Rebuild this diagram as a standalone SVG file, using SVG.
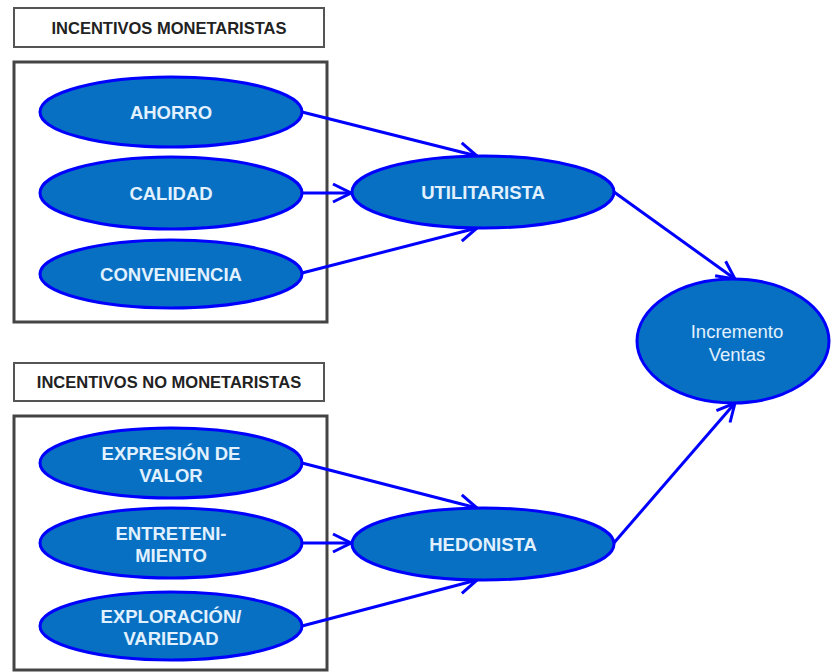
<svg xmlns="http://www.w3.org/2000/svg" width="832" height="672" viewBox="0 0 832 672">
<style>
.title{fill:#fff;stroke:#555;stroke-width:2}
.group{fill:#fff;stroke:#444;stroke-width:3}
.tt{font-family:"Liberation Sans",Arial,sans-serif;font-weight:bold;font-size:16.5px;fill:#222;text-anchor:middle}
.el{fill:#0870c2;stroke:#0000ff;stroke-width:3}
.lb{font-family:"Liberation Sans",Arial,sans-serif;font-weight:bold;font-size:18.5px;fill:#e2f1ff;text-anchor:middle}
.lbn{font-family:"Liberation Sans",Arial,sans-serif;font-weight:normal;font-size:18.5px;fill:#e2f1ff;text-anchor:middle}
.cn{fill:none;stroke:#0000ff;stroke-width:3;marker-end:url(#ah)}
</style>
<defs>
<marker id="ah" markerUnits="userSpaceOnUse" viewBox="0 0 24 24" markerWidth="24" markerHeight="24" refX="21" refY="12" orient="auto">
<path d="M3,3 L21,12 L3,21" fill="none" stroke="#0000ff" stroke-width="3" stroke-linejoin="miter"/>
</marker>
</defs>
<rect width="832" height="672" fill="#fff"/>
<g id="title-monetaristas">
<rect class="title" x="14" y="8" width="310" height="39"/>
<text class="tt" x="169" y="34">INCENTIVOS MONETARISTAS</text>
</g>
<g id="box-monetaristas">
<rect class="group" x="14" y="62" width="313" height="260"/>
</g>
<g id="title-no-monetaristas">
<rect class="title" x="14" y="363" width="310" height="38"/>
<text class="tt" x="169" y="388">INCENTIVOS NO MONETARISTAS</text>
</g>
<g id="box-no-monetaristas">
<rect class="group" x="14" y="416" width="313" height="254"/>
</g>
<g id="connectors">
<line class="cn" x1="302" y1="112" x2="477" y2="156"/>
<line class="cn" x1="302" y1="193" x2="351" y2="193"/>
<line class="cn" x1="302" y1="273" x2="477" y2="228"/>
<line class="cn" x1="302" y1="463" x2="477" y2="508"/>
<line class="cn" x1="302" y1="543" x2="351" y2="543"/>
<line class="cn" x1="302" y1="626" x2="477" y2="580"/>
<line class="cn" x1="614" y1="192" x2="735" y2="279"/>
<line class="cn" x1="613" y1="544" x2="735" y2="403"/>
</g>
<g id="ahorro">
<ellipse class="el" cx="171" cy="112" rx="131" ry="35"/>
<text class="lb" x="171" y="119">AHORRO</text>
</g>
<g id="calidad">
<ellipse class="el" cx="171" cy="193" rx="131" ry="36"/>
<text class="lb" x="171" y="200">CALIDAD</text>
</g>
<g id="conveniencia">
<ellipse class="el" cx="171" cy="274" rx="131" ry="34"/>
<text class="lb" x="171" y="281">CONVENIENCIA</text>
</g>
<g id="utilitarista">
<ellipse class="el" cx="483" cy="192" rx="131" ry="36"/>
<text class="lb" x="483" y="199">UTILITARISTA</text>
</g>
<g id="expresion">
<ellipse class="el" cx="171" cy="463" rx="131" ry="35"/>
<text class="lb" x="171" y="459.5">EXPRESIÓN DE</text>
<text class="lb" x="171" y="481.5">VALOR</text>
</g>
<g id="entretenimiento">
<ellipse class="el" cx="171" cy="543" rx="131" ry="35"/>
<text class="lb" x="171" y="539.5">ENTRETENI-</text>
<text class="lb" x="171" y="561.5">MIENTO</text>
</g>
<g id="exploracion">
<ellipse class="el" cx="171" cy="626" rx="131" ry="34"/>
<text class="lb" x="171" y="622.5">EXPLORACIÓN/</text>
<text class="lb" x="171" y="644.5">VARIEDAD</text>
</g>
<g id="hedonista">
<ellipse class="el" cx="483" cy="544" rx="131" ry="36"/>
<text class="lb" x="483" y="551">HEDONISTA</text>
</g>
<g id="incremento">
<ellipse class="el" cx="733" cy="341" rx="96" ry="62"/>
<text class="lbn" x="737" y="338">Incremento</text>
<text class="lbn" x="737" y="361">Ventas</text>
</g>
</svg>
